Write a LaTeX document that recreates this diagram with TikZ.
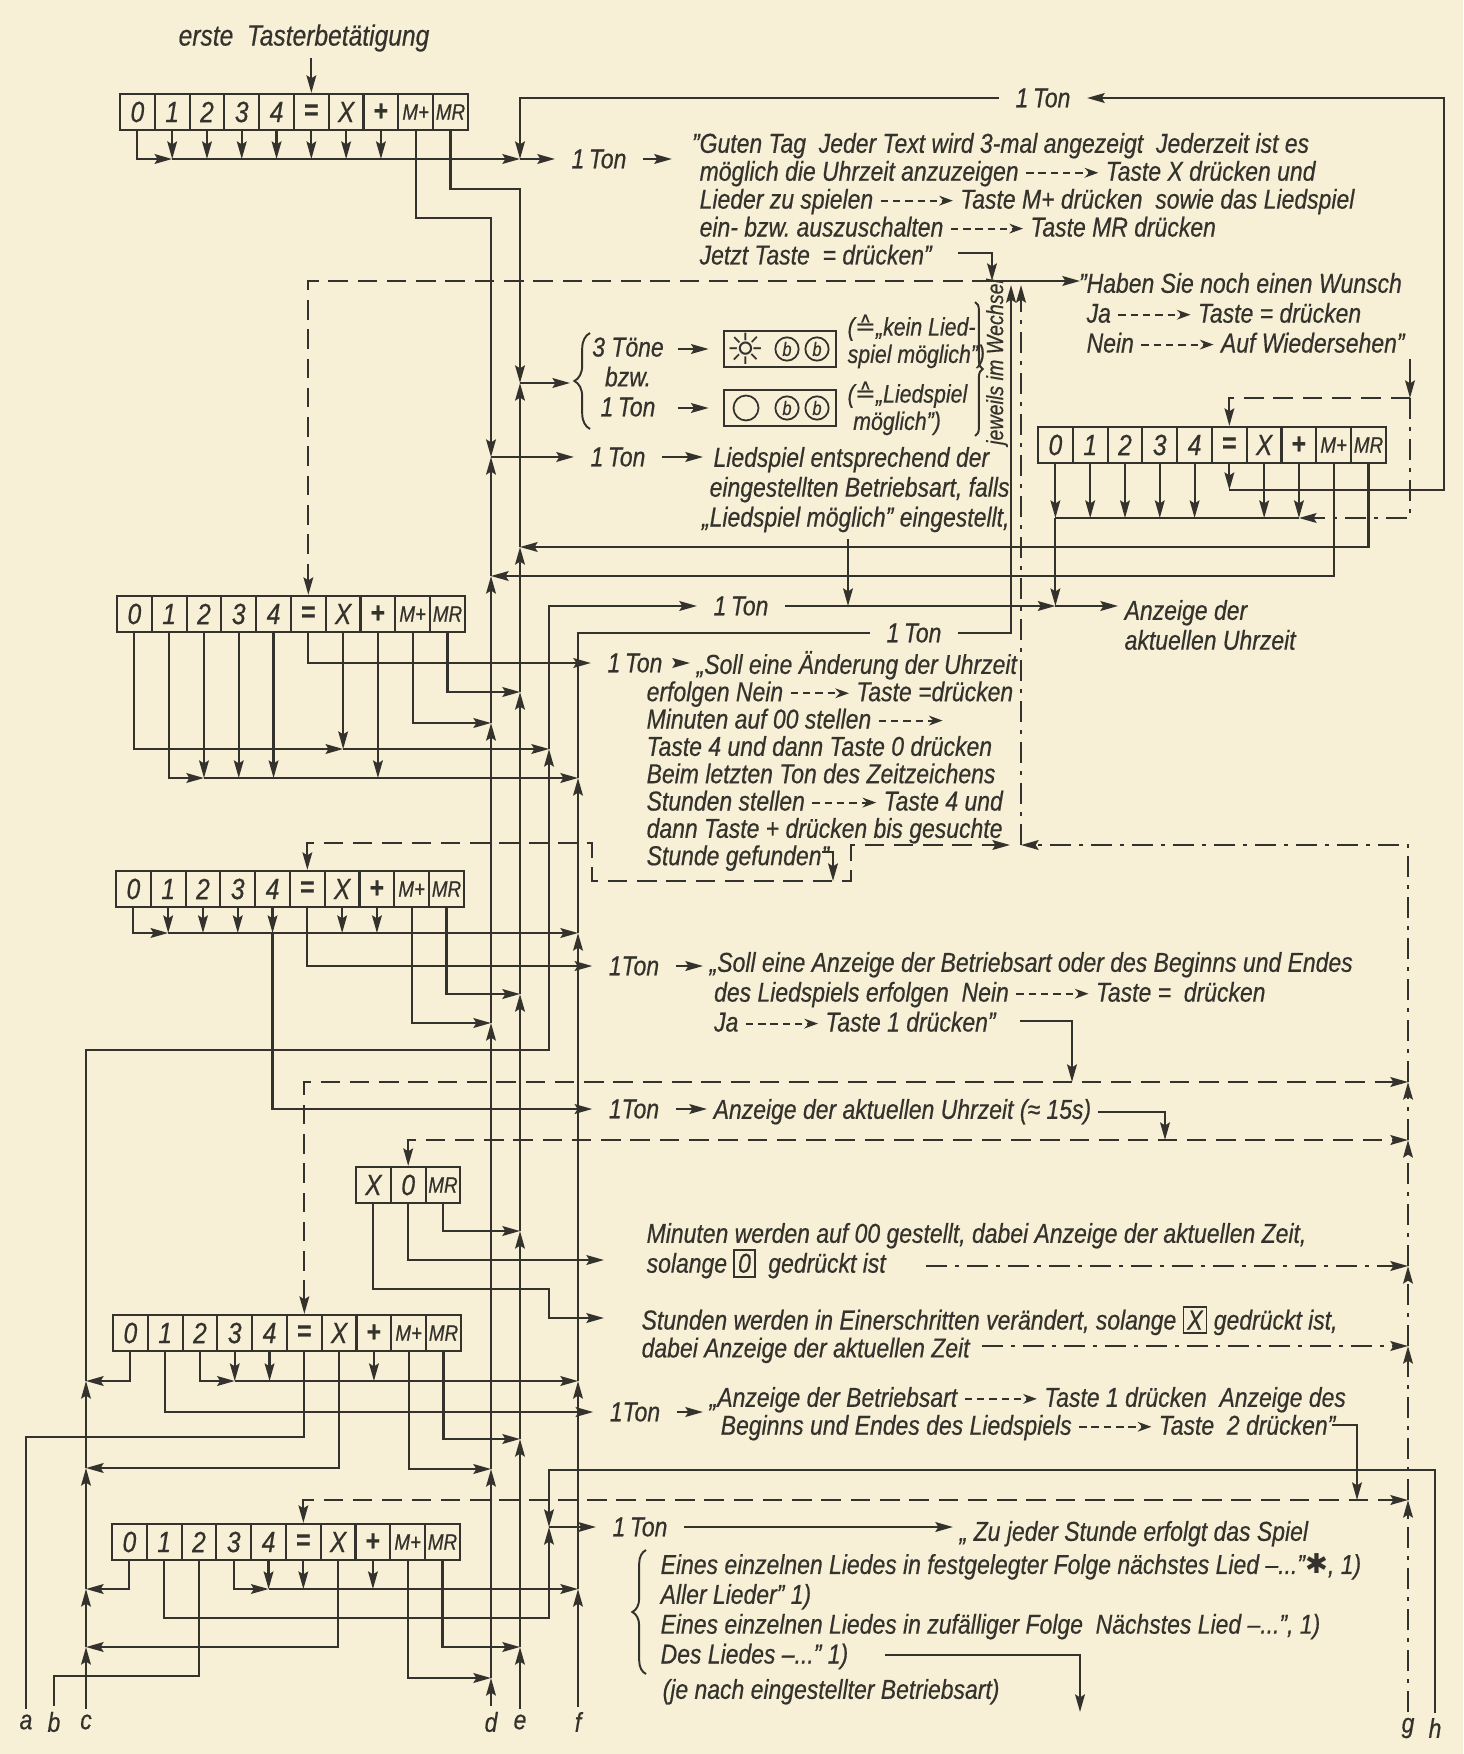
\documentclass[tikz,border=0pt]{standalone}
\usepackage{fontspec}
\setmainfont{Liberation Sans}[FakeStretch=0.84, FakeBold=0.5]
\newfontfamily\symfont{DejaVu Sans}
\usepackage{xcolor}
\usepackage{tikz}
\usetikzlibrary{shapes.geometric, arrows, arrows.meta, decorations.pathreplacing}
\definecolor{paper}{RGB}{248,240,214}
\definecolor{ink}{RGB}{52,50,44}
\setlength{\fboxsep}{1.5pt}
\setlength{\fboxrule}{0.9pt}
\newcommand{\txtfont}{\fontsize{14}{14.3}\selectfont\itshape}
\newcommand{\widefont}{\fontsize{14}{15.3}\selectfont\itshape}
\newcommand{\tightfont}{\fontsize{14}{14}\selectfont\itshape}
\newcommand{\smallfont}{\fontsize{13}{14}\selectfont\itshape}
\newcommand{\keyfont}{\fontsize{15}{15}\selectfont\itshape}
\newcommand{\keysmall}{\fontsize{11.5}{11.5}\selectfont\itshape}
\newcommand{\eqhat}{{\symfont ≙}}
\newcommand{\dar}[1][1.3]{\tikz[x=1cm, y=1cm, baseline=-0.55ex]\draw[line width=1.1pt, dash pattern=on 3.8pt off 2.5pt, -{Stealth[length=7pt,width=5pt]}] (0,0) -- (#1,0);}

\tikzstyle{key} = [rectangle, 
draw=ink, 
line width=1.1pt, 
minimum width=0.6264cm, 
minimum height=0.648cm, 
inner sep=0pt, 
text centered, 
font=\keyfont]
\tikzstyle{txt} = [anchor=north west, align=left, inner sep=0pt, outer sep=0.12cm, yshift=0.12cm, font=\txtfont]
\tikzstyle{ton} = [inner sep=0pt, outer sep=0.3cm, font=\txtfont]
\tikzstyle{panel} = [rectangle, draw, line width=1.4pt, minimum width=2.02cm, minimum height=0.65cm]
\tikzstyle{bell} = [circle, draw, line width=0.9pt, minimum size=0.42cm, inner sep=0pt, font=\fontsize{10}{10}\selectfont\itshape]
\tikzstyle{sym} = [inner sep=0pt, font=\symfont\fontsize{22}{22}\selectfont]
\tikzstyle{brace} = [decorate, decoration={brace, amplitude=7pt}, line width=1pt]
\tikzstyle{arrow} = [line width=1.1pt, ->, >={Stealth[length=9pt,width=5pt,inset=1.5pt]}]
\tikzstyle{dashline} = [line width=1pt, dash pattern=on 10pt off 5pt]
\tikzstyle{dashdotline} = [line width=1pt, dash pattern=on 11pt off 4pt on 2pt off 4pt]

% one row of keys, #1 name, #2 left, #3 top
\newcommand{\keyboard}[3]{%
\node (#1-0) [key] at (#2+17.4,#3+18) {0};
\node (#1-1) [key, right of=#1-0] {1};
\node (#1-2) [key, right of=#1-1] {2};
\node (#1-3) [key, right of=#1-2] {3};
\node (#1-4) [key, right of=#1-3] {4};
\node (#1-5) [key, right of=#1-4] {\upshape\bfseries =};
\node (#1-6) [key, right of=#1-5] {X};
\node (#1-7) [key, right of=#1-6] {\upshape\bfseries +};
\node (#1-8) [key, font=\keysmall, right of=#1-7] {M+};
\node (#1-9) [key, font=\keysmall, right of=#1-8] {MR};
}

\begin{document}
\begin{tikzpicture}[x=0.018cm, y=-0.018cm, line width=1.1pt, color=ink, node distance=0.6264cm]
\fill[paper] (0,0) rectangle (1463,1754);

% keyboards
\keyboard{ka}{120}{94}
\keyboard{kb}{1038}{427}
\keyboard{kc}{117}{596}
\keyboard{kd}{116}{871}
\keyboard{ke}{113}{1315}
\keyboard{kf}{112}{1524}
\node (kx-0) [key] at (373.4,1185) {X};
\node (kx-1) [key, right of=kx-0] {0};
\node (kx-2) [key, font=\keysmall, right of=kx-1] {MR};

% line ends
\node (a) [ton, outer sep=0.1cm] at (26,1722) {a};
\node (b) [ton, outer sep=0.1cm] at (54,1722) {b};
\node (c) [ton, outer sep=0.1cm] at (86,1722) {c};
\node (d) [ton, outer sep=0.1cm] at (491,1722) {d};
\node (e) [ton, outer sep=0.1cm] at (520,1722) {e};
\node (f) [ton, outer sep=0.1cm] at (578,1722) {f};
\node (g) [ton, outer sep=0.1cm] at (1408,1728) {g};
\node (h) [ton, outer sep=0.1cm] at (1435,1728) {h};
\coordinate (m) at (549,0);

% texts
\node (erste) [ton, outer sep=0.12cm, font=\fontsize{15}{15}\selectfont\itshape] at (304,38) {erste\ \ Tasterbetätigung};
\node (guten) [txt] at (693,133) {\llap{"}Guten Tag\ \ Jeder Text wird 3-mal angezeigt\ \ Jederzeit ist es\\
möglich die Uhrzeit anzuzeigen \dar\ Taste X drücken und\\
Lieder zu spielen \dar\ Taste M+ drücken\ \ sowie das Liedspiel\\
ein- bzw.\ auszuschalten \dar\ Taste MR drücken\\
Jetzt Taste\ \ = drücken"};
\node (haben) [txt, font=\widefont] at (1080,273) {\llap{"}Haben Sie noch einen Wunsch\\
Ja \dar\ Taste = drücken\\
Nein \dar\ Auf Wiedersehen"};
\node (toene) [ton, align=center, outer sep=0.1cm, font=\widefont] at (628,377) {3 Töne\\bzw.\\1\,Ton};
\node (led1) [panel] at (780,349) {};
\node (led2) [panel] at (780,408) {};
\node (sun) [sym] at (746,349) {☼};
\node (b1) [bell] at (787,349) {b};
\node (b2) [bell] at (817,349) {b};
\node (o1) [bell, minimum size=0.45cm] at (746,408) {};
\node (b3) [bell] at (787,408) {b};
\node (b4) [bell] at (817,408) {b};
\node (kein) [txt, font=\smallfont] at (841,315) {(\eqhat„kein Lied-\\spiel möglich")};
\node (moeg) [txt, font=\smallfont] at (841,382) {(\eqhat„Liedspiel\\\hspace*{0.1cm}möglich")};
\node (wechsel) [ton, rotate=90, font=\fontsize{12}{12}\selectfont\itshape] at (997,362) {jeweils im Wechsel};
\node (tonA1) [ton] at (599,159) {1\,Ton};
\node (tonTop) [ton] at (1043,98) {1\,Ton};
\node (tonL) [ton] at (618,457) {1\,Ton};
\node (lied) [txt, font=\widefont] at (703,447) {\hspace*{0.07cm}Liedspiel entsprechend der\\
eingestellten Betriebsart, falls\\
\llap{„}Liedspiel möglich" eingestellt,};
\node (tonA) [ton] at (741,606) {1\,Ton};
\node (anz) [txt, font=\widefont] at (1118,600) {Anzeige der\\aktuellen Uhrzeit};
\node (tonF) [ton] at (914,633) {1\,Ton};
\node (tonS) [ton] at (635,663) {1\,Ton};
\node (soll) [txt, font=\tightfont] at (640,651) {\hspace*{0.9cm}„Soll eine Änderung der Uhrzeit\\
erfolgen Nein \dar[1.05]\ Taste =drücken\\
Minuten auf 00 stellen \dar[1.15]\\
Taste 4 und dann Taste 0 drücken\\
Beim letzten Ton des Zeitzeichens\\
Stunden stellen \dar[1.15]\ Taste 4 und\\
dann Taste + drücken bis gesuchte\\
Stunde gefunden"};
\node (tonB) [ton] at (634,966) {1Ton};
\node (anzB) [txt, font=\widefont] at (703,952) {„Soll eine Anzeige der Betriebsart oder des Beginns und Endes\\
\hspace*{0.08cm}des Liedspiels erfolgen\ \ Nein \dar\ Taste =\ \ drücken\\
\hspace*{0.08cm}Ja \dar\ Taste 1 drücken"};
\node (tonC) [ton] at (634,1109) {1Ton};
\node (anzC) [txt] at (707,1099) {Anzeige der aktuellen Uhrzeit (≈ 15s)};
\node (minu) [txt, font=\widefont] at (640,1223) {Minuten werden auf 00 gestellt, dabei Anzeige der aktuellen Zeit,\\
solange\ \fbox{0}\ \ gedrückt ist};
\node (std) [txt] at (635,1306) {Stunden werden in Einerschritten verändert, solange \fbox{X} gedrückt ist,\\
dabei Anzeige der aktuellen Zeit};
\node (tonD) [ton] at (635,1412) {1Ton};
\node (anzD) [txt] at (703,1387) {„Anzeige der Betriebsart \dar\ Taste 1 drücken\ \ Anzeige des\\
\hspace*{0.2cm}Beginns und Endes des Liedspiels \dar\ Taste\ \ 2 drücken"};
\node (tonZ) [ton] at (640,1527) {1\,Ton};
\node (zu) [txt] at (953,1521) {„ Zu jeder Stunde erfolgt das Spiel};
\node (lieder) [txt, font=\widefont] at (654,1554) {Eines einzelnen Liedes in festgelegter Folge nächstes Lied –..."{\symfont ✱}, 1)\\
Aller Lieder" 1)\\
Eines einzelnen Liedes in zufälliger Folge\ \ Nächstes Lied –...", 1)\\
Des Liedes –..." 1)};
\node (je) [txt] at (656,1679) {(je nach eingestellter Betriebsart)};

% braces
\draw [brace, decoration={amplitude=8pt}] (590,429) -- (590,333);
\draw [brace, decoration={amplitude=4pt}] (975,302) -- (975,436);
\draw [brace] (646,1674) -- (646,1550);

% named ends
\coordinate (jetztEnd) at (958,253);
\coordinate (hubL) at (992,281);
\coordinate (hubS) at (1011,285);
\coordinate (hubD) at (1021,845);
\coordinate (wunsch) at (1410,398);
\coordinate (loopR) at (1444,490);
\coordinate (liedX) at (848,606);
\coordinate (sollIn) at (690,663);
\coordinate (gefEnd) at (822,852);
\coordinate (gefIn) at (833,881);
\coordinate (jaEnd) at (1020,1021);
\coordinate (jaIn) at (1072,1082);
\coordinate (uhrIn) at (1165,1140);
\coordinate (minIn) at (604,1260);
\coordinate (stdIn) at (604,1318);
\coordinate (minEnd) at (926,1266);
\coordinate (stdEnd) at (982,1346);
\coordinate (spielEnd) at (1332,1425);
\coordinate (spielIn) at (1357,1500);
\coordinate (desEnd) at (885,1655);
\coordinate (desOut) at (1080,1712);

% first row
\draw [arrow] (erste.south -| ka-5.north) -- (ka-5.north);
\draw [arrow] (ka-0.south) |- (ka-1.south |- 0,159);
\draw [arrow] (ka-1.south) -- (ka-1.south |- 0,159);
\draw [arrow] (ka-2.south) -- (ka-2.south |- 0,159);
\draw [arrow] (ka-3.south) -- (ka-3.south |- 0,159);
\draw [arrow] (ka-4.south) -- (ka-4.south |- 0,159);
\draw [arrow] (ka-5.south) -- (ka-5.south |- 0,159);
\draw [arrow] (ka-6.south) -- (ka-6.south |- 0,159);
\draw [arrow] (ka-7.south) -- (ka-7.south |- 0,159);
\draw [arrow] (ka-1.south |- 0,159) -- (e |- 0,159);
\draw [arrow] (e |- 0,159) -- (tonA1.west);
\draw [arrow, shorten >=0.38cm] (tonA1.east) -- (tonA1 -| guten.west);
\draw [arrow] (tonTop.west) -| (e |- 0,159);
\draw [arrow] (ka-8.south) |- (d |- 0,218) -- (d |- 0,457);
\draw [arrow] (ka-9.south) |- (e |- 0,189) -- (e |- 0,383);
\draw [arrow, shorten >=0.3cm] (e |- 0,383) -- (toene.west |- 0,383);
\draw [arrow, shorten <=0.15cm, shorten >=0.25cm] (toene.east |- led1) -- (led1.west);
\draw [arrow, shorten <=0.15cm, shorten >=0.25cm] (toene.east |- led2) -- (led2.west);
\draw [arrow] (d |- 0,457) -- (tonL.west);
\draw [arrow] (tonL.east) -- (tonL -| lied.west);

% hub
\draw [arrow] (jetztEnd) -| (hubL);
\draw [arrow] (hubL) -- (hubL -| haben.west);
\draw [arrow, dashline] (hubL) -| (kc-5.north);
\draw [arrow] (tonF.east) -| (hubS);
\draw [arrow, dashdotline] (hubD) -- (hubD |- hubS);

% right row
\draw [arrow] (haben.south -| wunsch) -- (wunsch);
\draw [arrow, dashline] (wunsch) -| (kb-5.north);
\draw [arrow, dashdotline] (wunsch) |- (kb-7.south |- 0,518);
\draw [arrow] (kb-0.south) -- (kb-0.south |- 0,518);
\draw [arrow] (kb-1.south) -- (kb-1.south |- 0,518);
\draw [arrow] (kb-2.south) -- (kb-2.south |- 0,518);
\draw [arrow] (kb-3.south) -- (kb-3.south |- 0,518);
\draw [arrow] (kb-4.south) -- (kb-4.south |- 0,518);
\draw [arrow] (kb-6.south) -- (kb-6.south |- 0,518);
\draw [arrow] (kb-7.south) -- (kb-7.south |- 0,518);
\draw (kb-0.south |- 0,518) -- (kb-7.south |- 0,518);
\draw [arrow] (kb-5.south) -- (kb-5.south |- loopR);
\draw [arrow] (kb-5.south |- loopR) -- (loopR) |- (tonTop.east);
\draw [arrow] (kb-9.south) |- (e |- 0,547);
\draw [arrow] (kb-8.south) |- (d |- 0,576);
\draw [arrow] (kb-0.south |- 0,518) -- (kb-0.south |- tonA);
\draw [arrow] (liedX |- lied.south) -- (liedX);
\draw [arrow] (tonA.east) -- (kb-0.south |- tonA);
\draw [arrow] (kb-0.south |- tonA) -- (tonA -| anz.west);

% second row
\draw [arrow] (kc-5.south) |- (tonS.west);
\draw [arrow, shorten <=-0.12cm] (tonS.east) -- (sollIn);
\draw [arrow] (kc-9.south) |- (e |- 0,692);
\draw [arrow] (kc-8.south) |- (d |- 0,723);
\draw [arrow] (kc-0.south) |- (kc-6.south |- 0,749);
\draw [arrow] (kc-6.south) -- (kc-6.south |- 0,749);
\draw [arrow] (kc-6.south |- 0,749) -- (m |- 0,749);
\draw [arrow] (kc-1.south) |- (kc-2.south |- 0,778);
\draw [arrow] (kc-2.south) -- (kc-2.south |- 0,778);
\draw [arrow] (kc-3.south) -- (kc-3.south |- 0,778);
\draw [arrow] (kc-4.south) -- (kc-4.south |- 0,778);
\draw [arrow] (kc-7.south) -- (kc-7.south |- 0,778);
\draw [arrow] (kc-2.south |- 0,778) -- (f |- 0,778);

% loop to third row
\draw [arrow, dashline, <->] (kd-5.north) |- (592,843) |- (851,881) |- (1010,845);
\draw [arrow] (gefEnd) -| (gefIn);
\draw [arrow, dashdotline] (g |- jaIn) |- (hubD);

% third row
\draw [arrow] (kd-0.south) |- (kd-1.south |- 0,933);
\draw [arrow] (kd-1.south) -- (kd-1.south |- 0,933);
\draw [arrow] (kd-2.south) -- (kd-2.south |- 0,933);
\draw [arrow] (kd-3.south) -- (kd-3.south |- 0,933);
\draw [arrow] (kd-4.south) -- (kd-4.south |- 0,933);
\draw [arrow] (kd-6.south) -- (kd-6.south |- 0,933);
\draw [arrow] (kd-7.south) -- (kd-7.south |- 0,933);
\draw [arrow] (kd-1.south |- 0,933) -- (f |- 0,933);
\draw [arrow] (kd-4.south |- 0,933) |- (tonC.west);
\draw [arrow] (kd-5.south) |- (tonB.west);
\draw [arrow] (kd-9.south) |- (e |- 0,994);
\draw [arrow] (kd-8.south) |- (d |- 0,1023);
\draw [arrow] (tonB.east) -- (tonB -| anzB.west);
\draw [arrow] (tonC.east) -- (tonC -| anzC.west);
\draw [arrow] (jaEnd) -| (jaIn);
\draw [arrow, dashline, <->] (ke-5.north) |- (g |- jaIn);
\draw [arrow] (anzC.east) -| (uhrIn);
\draw [arrow, dashline, <->] (kx-1.north) |- (g |- uhrIn);

% X 0 MR
\draw [arrow] (kx-2.south) |- (e |- 0,1231);
\draw [arrow] (kx-1.south) |- (minIn);
\draw [arrow] (kx-0.south) |- (m |- 0,1289) |- (stdIn);
\draw [arrow, dashdotline] (minEnd) -- (g |- minEnd);
\draw [arrow, dashdotline] (stdEnd) -- (g |- stdEnd);

% fourth row
\draw [arrow] (ke-0.south) |- (c |- 0,1381);
\draw [arrow] (ke-1.south) |- (tonD.west);
\draw [arrow] (tonD.east) -- (tonD -| anzD.west);
\draw [arrow] (ke-2.south) |- (ke-3.south |- 0,1381);
\draw [arrow] (ke-3.south) -- (ke-3.south |- 0,1381);
\draw [arrow] (ke-4.south) -- (ke-4.south |- 0,1381);
\draw [arrow] (ke-7.south) -- (ke-7.south |- 0,1381);
\draw [arrow] (ke-3.south |- 0,1381) -- (f |- 0,1381);
\draw (ke-5.south) |- (a |- 0,1437) -- (a.north);
\draw [arrow] (ke-6.south) |- (c |- 0,1468);
\draw [arrow] (ke-9.south) |- (e |- 0,1439);
\draw [arrow] (ke-8.south) |- (d |- 0,1469);
\draw [arrow] (spielEnd) -| (spielIn);
\draw [arrow, dashline, <->] (kf-5.north) |- (g |- spielIn);
\draw [arrow] (h.north) |- (m |- 0,1470) -- (m |- 0,1527);

% fifth row
\draw [arrow] (kf-0.south) |- (c |- 0,1589);
\draw [arrow] (kf-1.south) |- (m |- 0,1618) -- (m |- 0,1527);
\draw (kf-2.south) |- (b |- 0,1676) -- (b.north);
\draw [arrow] (kf-3.south) |- (kf-4.south |- 0,1589);
\draw [arrow] (kf-4.south) -- (kf-4.south |- 0,1589);
\draw [arrow] (kf-5.south) -- (kf-5.south |- 0,1589);
\draw [arrow] (kf-7.south) -- (kf-7.south |- 0,1589);
\draw [arrow] (kf-4.south |- 0,1589) -- (f |- 0,1589);
\draw [arrow] (kf-6.south) |- (c |- 0,1647);
\draw [arrow] (kf-9.south) |- (e |- 0,1647);
\draw [arrow] (kf-8.south) |- (d |- 0,1678);
\draw [arrow] (m |- 0,1527) -- (tonZ.west);
\draw [arrow] (tonZ.east) -- (tonZ -| zu.west);
\draw [arrow] (desEnd) -| (desOut);

% vertical lines a to h
\draw [arrow] (c.north) -- (c |- 0,1647);
\draw [arrow] (c |- 0,1647) -- (c |- 0,1589);
\draw [arrow] (c |- 0,1589) -- (c |- 0,1468);
\draw [arrow] (c |- 0,1468) -- (c |- 0,1381);
\draw [arrow] (c |- 0,1381) |- (m |- 0,1050) -- (m |- 0,749);
\draw [arrow] (m |- 0,749) |- (tonA.west);
\draw [arrow] (d.north) -- (d |- 0,1678);
\draw [arrow] (d |- 0,1678) -- (d |- 0,1469);
\draw [arrow] (d |- 0,1469) -- (d |- 0,1023);
\draw [arrow] (d |- 0,1023) -- (d |- 0,723);
\draw [arrow] (d |- 0,723) -- (d |- 0,576);
\draw [arrow] (d |- 0,576) -- (d |- 0,457);
\draw [arrow] (e.north) -- (e |- 0,1647);
\draw [arrow] (e |- 0,1647) -- (e |- 0,1439);
\draw [arrow] (e |- 0,1439) -- (e |- 0,1231);
\draw [arrow] (e |- 0,1231) -- (e |- 0,994);
\draw [arrow] (e |- 0,994) -- (e |- 0,692);
\draw [arrow] (e |- 0,692) -- (e |- 0,547);
\draw [arrow] (e |- 0,547) -- (e |- 0,383);
\draw [arrow] (f.north) -- (f |- 0,1589);
\draw [arrow] (f |- 0,1589) -- (f |- 0,1381);
\draw [arrow] (f |- 0,1381) -- (f |- 0,933);
\draw [arrow] (f |- 0,933) -- (f |- 0,778);
\draw (f |- 0,778) |- (tonF.west);
\draw [arrow, dashdotline] (g.north) -- (g |- spielIn);
\draw [arrow, dashdotline] (g |- spielIn) -- (g |- stdEnd);
\draw [arrow, dashdotline] (g |- stdEnd) -- (g |- minEnd);
\draw [arrow, dashdotline] (g |- minEnd) -- (g |- uhrIn);
\draw [arrow, dashdotline] (g |- uhrIn) -- (g |- jaIn);

\end{tikzpicture}
\end{document}
